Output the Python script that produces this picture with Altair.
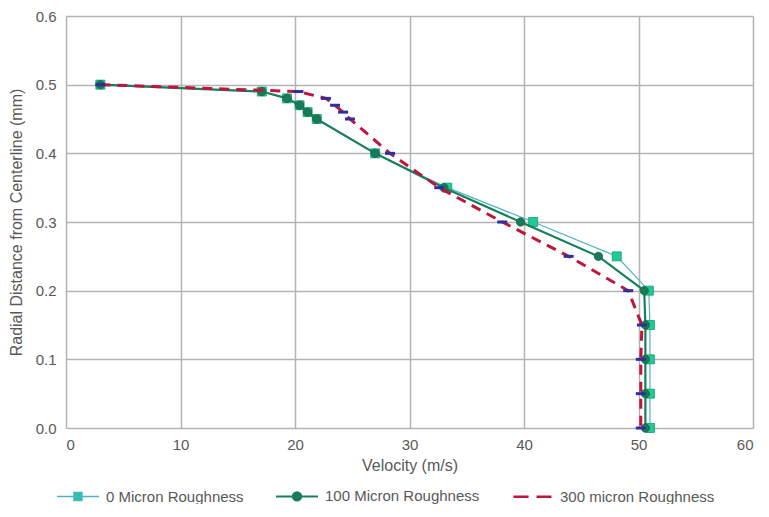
import altair as alt
import pandas as pd

# ---- data ----
radial = [0.5, 0.49, 0.48, 0.47, 0.46, 0.45, 0.4, 0.35, 0.3, 0.25, 0.2, 0.15, 0.1, 0.05, 0.0]
vel_0um = [3.0, 17.1, 19.3, 20.4, 21.1, 21.9, 27.0, 33.3, 40.8, 48.1, 50.9, 51.0, 51.0, 51.0, 51.0]
vel_100um = [3.0, 17.1, 19.3, 20.4, 21.1, 21.9, 27.0, 33.0, 39.7, 46.5, 50.5, 50.6, 50.6, 50.6, 50.6]
vel_300um = [3.0, 20.3, 22.7, 23.5, 24.2, 24.8, 28.3, 32.6, 38.1, 43.9, 49.1, 50.3, 50.2, 50.2, 50.2]
series_names = ["0 Micron Roughness", "100 Micron Roughness", "300 micron Roughness"]
x_ticks = [0, 10, 20, 30, 40, 50, 60]
y_ticks = [0.0, 0.1, 0.2, 0.3, 0.4, 0.5, 0.6]

rows = []
for name, vals in zip(series_names, [vel_0um, vel_100um, vel_300um]):
    for i, (v, r) in enumerate(zip(vals, radial)):
        rows.append({"series": name, "velocity": v, "radial": r, "idx": i})
df = pd.DataFrame(rows)

FONT = "Liberation Sans"
TXT = "#595959"

line_colors = ["#4fb3c8", "#17805a", "#c0143c"]
marker_fill = ["#20c997", "#1a7a55", "#2e2e9e"]

x_enc = alt.X("velocity:Q", scale=alt.Scale(domain=[0, 60], nice=False),
              axis=alt.Axis(values=x_ticks, title="Velocity (m/s)", labelPadding=9, titlePadding=5))
y_enc = alt.Y("radial:Q", scale=alt.Scale(domain=[0, 0.6], nice=False),
              axis=alt.Axis(values=y_ticks, format=".1f", title="Radial Distance from Centerline (mm)",
                            labelPadding=10, titlePadding=11))

base = alt.Chart(df)

def sel(name):
    return base.transform_filter(alt.datum.series == name)

line0 = sel(series_names[0]).mark_line(color=line_colors[0], strokeWidth=1.2).encode(x=x_enc, y=y_enc, order="idx:Q")
pts0 = sel(series_names[0]).mark_point(shape="square", filled=True, fill=marker_fill[0], stroke="#12a070",
                                       strokeWidth=0.8, size=81, opacity=1).encode(x=x_enc, y=y_enc)
line1 = sel(series_names[1]).mark_line(color=line_colors[1], strokeWidth=2.2).encode(x=x_enc, y=y_enc, order="idx:Q")
pts1 = sel(series_names[1]).mark_point(shape="circle", filled=True, fill=marker_fill[1], stroke="#14684a",
                                       strokeWidth=0.8, size=70, opacity=1).encode(x=x_enc, y=y_enc)
line2 = sel(series_names[2]).mark_line(color=line_colors[2], strokeWidth=3, strokeDash=[10, 7]).encode(
    x=x_enc, y=y_enc, order="idx:Q")
pts2 = sel(series_names[2]).mark_point(shape="M-1,-0.3H1V0.3H-1Z", filled=True, fill=marker_fill[2],
                                       size=100, opacity=1).encode(x=x_enc, y=y_enc)

# legend (symbols: line + marker)
leg_paths = [
    "M-1,0H1M-0.19,-0.19H0.19V0.19H-0.19Z",
    "M-1,0H1M0.2,0A0.2,0.2,0,1,1,-0.2,0A0.2,0.2,0,1,1,0.2,0Z",
    "M-0.86,0H-0.14M0.24,0H0.95",
]
leg = alt.Legend(title=None, orient="none", legendX=-10, legendY=458, direction="horizontal",
                 symbolSize=1764, labelOffset=6, columnPadding=28, labelFont=FONT, labelFontSize=15,
                 labelColor=TXT, labelLimit=300)
legend_layer = base.transform_filter("false").mark_point(filled=True, opacity=1).encode(
    x=x_enc, y=y_enc,
    shape=alt.Shape("series:N", scale=alt.Scale(domain=series_names, range=leg_paths), legend=leg),
    fill=alt.Fill("series:N", scale=alt.Scale(domain=series_names, range=[marker_fill[0], marker_fill[1], line_colors[2]]), legend=leg),
    stroke=alt.Stroke("series:N", scale=alt.Scale(domain=series_names, range=line_colors), legend=leg),
    strokeWidth=alt.StrokeWidth("series:N", scale=alt.Scale(domain=series_names, range=[1.5, 2.5, 3.5]), legend=leg),
)

chart = alt.layer(line0, pts0, line1, pts1, line2, pts2, legend_layer).properties(
    width=687, height=412,
    autosize=alt.AutoSizeParams(type="none"),
    padding={"left": 58, "top": 8, "right": 8, "bottom": 76},
).configure_view(stroke=None).configure_axis(
    grid=True, gridColor="#b3b3b3", gridWidth=1.5, domain=False, ticks=False,
    labelFont=FONT, labelFontSize=15, labelColor=TXT,
    titleFont=FONT, titleFontSize=16, titleColor=TXT, titleFontWeight="normal",
)

chart.save("out.html", embed_options={"renderer": "svg", "actions": False})
